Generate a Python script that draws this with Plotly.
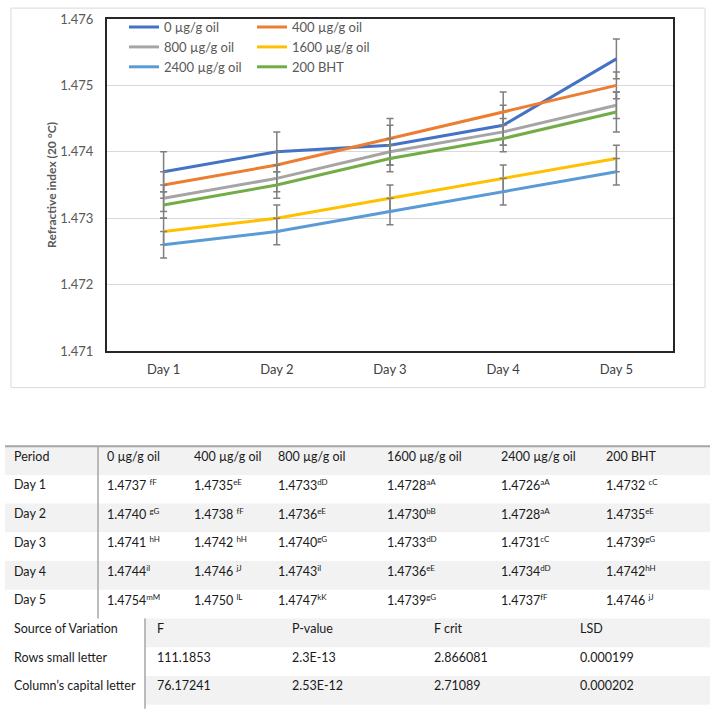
import plotly.graph_objects as go

# ---------------- data ----------------
days = ["Day 1", "Day 2", "Day 3", "Day 4", "Day 5"]
series_names = ["0 µg/g oil", "400 µg/g oil", "800 µg/g oil", "1600 µg/g oil", "2400 µg/g oil", "200 BHT"]
v0 = [1.4737, 1.4740, 1.4741, 1.4744, 1.4754]
v400 = [1.4735, 1.4738, 1.4742, 1.4746, 1.4750]
v800 = [1.4733, 1.4736, 1.4740, 1.4743, 1.4747]
v1600 = [1.4728, 1.4730, 1.4733, 1.4736, 1.4739]
v2400 = [1.4726, 1.4728, 1.4731, 1.4734, 1.4737]
vbht = [1.4732, 1.4735, 1.4739, 1.4742, 1.4746]
values = [v0, v400, v800, v1600, v2400, vbht]

e0 = [0.0003, 0.0003, 0.0003, 0.0003, 0.0003]
e400 = [0.0002, 0.0002, 0.0003, 0.0003, 0.0002]
e800 = [0.0002, 0.0002, 0.0002, 0.0002, 0.0002]
e1600 = [0.0002, 0.0002, 0.0002, 0.0002, 0.0002]
e2400 = [0.0002, 0.0002, 0.0002, 0.0002, 0.0002]
ebht = [0.0002, 0.0002, 0.0002, 0.0002, 0.0003]
errors = [e0, e400, e800, e1600, e2400, ebht]

# superscript letters for table (a leading space marks a gap before the letters)
s0 = [" fF", " gG", " hH", "iI", "mM"]
s400 = ["eE", " fF", " hH", " jJ", " lL"]
s800 = ["dD", "eE", "gG", "iI", "kK"]
s1600 = ["aA", "bB", "dD", "eE", "gG"]
s2400 = ["aA", "aA", "cC", "dD", "fF"]
sbht = [" cC", "eE", "gG", "hH", " jJ"]
letters = [s0, s400, s800, s1600, s2400, sbht]

anova_header = ["Source of Variation", "F", "P-value", "F crit", "LSD"]
anova_source = ["Rows small letter", "Column’s capital letter"]
anova_F = ["111.1853", "76.17241"]
anova_P = ["2.3E-13", "2.53E-12"]
anova_Fcrit = ["2.866081", "2.71089"]
anova_LSD = ["0.000199", "0.000202"]

colors = ["#4472C4", "#ED7D31", "#A5A5A5", "#FFC000", "#5B9BD5", "#70AD47"]
legend_ids = ["legend", "legend2", "legend", "legend2", "legend", "legend2"]

# ---------------- layout geometry ----------------
W, H = 714, 716
L, R, T, B = 107, 41, 16, 365
PW = W - L - R
PH = H - T - B


def xp(x):
    return (x - L) / PW


def yp(y):
    return (H - B - y) / PH


FONT = "Lato, 'Open Sans', sans-serif"

fig = go.Figure()
for name, vals, errs, col, lg in zip(series_names, values, errors, colors, legend_ids):
    fig.add_trace(go.Scatter(
        x=days, y=vals, name=name, mode="lines",
        line=dict(color=col, width=3),
        error_y=dict(type="data", array=errs, visible=True, color="#7f7f7f", thickness=1.5, width=3.5),
        legend=lg,
    ))

shapes = []
annotations = []

# outer chart border
shapes.append(dict(type="rect", xref="paper", yref="paper", x0=xp(11), x1=xp(705), y0=yp(388), y1=yp(5),
                   line=dict(color="#d9d9d9", width=1), layer="below"))

# ---------------- table ----------------
row_top = 447
row_h = 29
grid_gray = "#a6a6a6"
band = "#f2f2f2"
txt_col = "#1a1a1a"
tfont = dict(family=FONT, size=12.5, color=txt_col)

upper_cols = [12, 105, 192, 276, 385, 499, 604]
lower_cols = [12, 155, 290, 432, 578]

# bands
for i in range(9):
    if i % 2 == 0:
        x0 = 5 if i <= 5 else 145
        shapes.append(dict(type="rect", xref="paper", yref="paper",
                           x0=xp(x0), x1=xp(710), y0=yp(row_top + (i + 1) * row_h), y1=yp(row_top + i * row_h),
                           line=dict(width=0), fillcolor=band, layer="below"))

# lines
shapes.append(dict(type="line", xref="paper", yref="paper", x0=xp(5), x1=xp(710), y0=yp(row_top), y1=yp(row_top),
                   line=dict(color=grid_gray, width=2)))
shapes.append(dict(type="line", xref="paper", yref="paper", x0=xp(98), x1=xp(98), y0=yp(row_top), y1=yp(row_top + 6 * row_h),
                   line=dict(color=grid_gray, width=1.5)))
shapes.append(dict(type="line", xref="paper", yref="paper", x0=xp(145), x1=xp(145), y0=yp(row_top + 6 * row_h), y1=yp(712),
                   line=dict(color=grid_gray, width=1.5)))


def add_text(x, y, text):
    annotations.append(dict(xref="paper", yref="paper", x=xp(x), y=yp(y), text=text, showarrow=False,
                            xanchor="left", yanchor="middle", font=tfont))


def row_y(i):
    return row_top + i * row_h + 10


header = ["Period"] + series_names
for c, h in enumerate(header):
    add_text(upper_cols[c], row_y(0), h)
for r, d in enumerate(days):
    add_text(upper_cols[0], row_y(r + 1), d)
    for c in range(6):
        lt = letters[c][r]
        sp = " " if lt.startswith(" ") else ""
        add_text(upper_cols[c + 1], row_y(r + 1),
                 f"{values[c][r]:.4f}{sp}<sup><span style='font-size:8px'>{lt.strip()}</span></sup>")

for c, h in enumerate(anova_header):
    add_text(lower_cols[c], row_y(6), h)
for r in range(2):
    rowvals = [anova_source[r], anova_F[r], anova_P[r], anova_Fcrit[r], anova_LSD[r]]
    for c, v in enumerate(rowvals):
        add_text(lower_cols[c], row_y(7 + r), v)

fig.update_layout(
    width=W, height=H,
    margin=dict(l=L, r=R, t=T, b=B),
    paper_bgcolor="white", plot_bgcolor="white",
    font=dict(family=FONT, size=13, color="#595959"),
    xaxis=dict(
        type="category", range=[-0.5, 4.5],
        showline=True, linecolor="#262626", linewidth=2, mirror=True,
        showgrid=False, ticks="", tickfont=dict(size=13, color="#404040"),
        ticklabelstandoff=5,
    ),
    yaxis=dict(
        range=[1.471, 1.476], dtick=0.001, tickformat=".3f",
        showline=True, linecolor="#262626", linewidth=2, mirror=True,
        showgrid=True, gridcolor="#d9d9d9", gridwidth=1, zeroline=False,
        ticks="", tickfont=dict(size=13, color="#595959"), ticklabelstandoff=9,
        title=dict(text="<b>Refractive index (20 °C)</b>", font=dict(size=12, color="#595959"), standoff=1),
    ),
    legend=dict(x=xp(124), y=yp(9), xanchor="left", yanchor="top", orientation="v",
                bgcolor="rgba(0,0,0,0)", font=dict(size=13, color="#595959"), itemwidth=30, tracegroupgap=0),
    legend2=dict(x=xp(252), y=yp(9), xanchor="left", yanchor="top", orientation="v",
                 bgcolor="rgba(0,0,0,0)", font=dict(size=13, color="#595959"), itemwidth=30, tracegroupgap=0),
    shapes=shapes,
    annotations=annotations,
    showlegend=True,
)

fig.write_html("out.html")
